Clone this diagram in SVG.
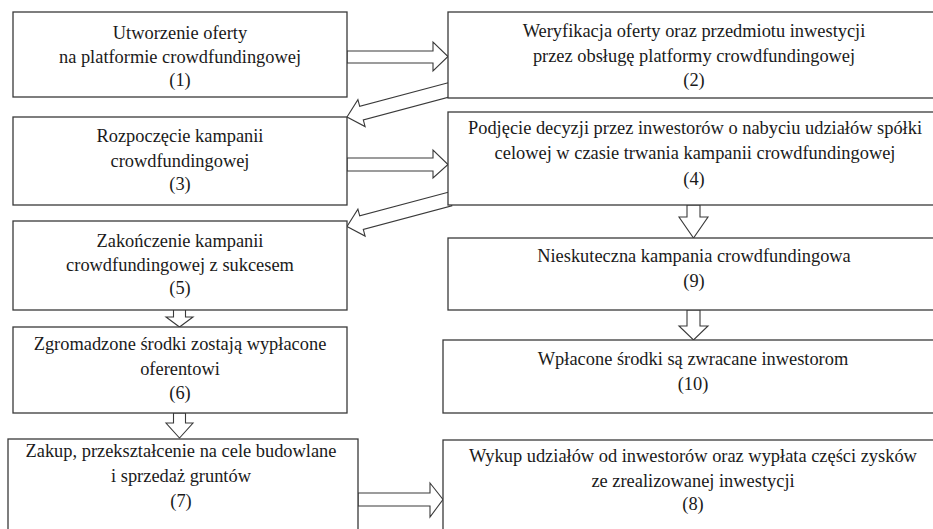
<svg xmlns="http://www.w3.org/2000/svg" width="933" height="529" viewBox="0 0 933 529">
<style>
.box{fill:#fff;stroke:#3a3a3a;stroke-width:1.3}
.arr{fill:#fff;stroke:#3a3a3a;stroke-width:1.1;stroke-linejoin:miter}
text{font-family:"Liberation Serif","Times New Roman",serif;font-size:18.4px;fill:#1a1a1a;text-anchor:middle}
</style>
<rect width="933" height="529" fill="#fff"/>
<g id="connectors">
<polygon class="arr" points="347,51 433,51 433,42 448,56.5 433,71 433,63 347,63"/>
<polygon class="arr" points="347,158 433,158 433,150 448,164.5 433,178 433,171 347,171"/>
<polygon class="arr" points="358,493 430,493 430,483 443,499.5 430,517 430,506 358,506"/>
<polygon class="arr" points="448.2,82.7 359.7,106.3 357.9,99.6 347,117 365.1,126.6 363.3,119.9 451.8,96.3"/>
<polygon class="arr" points="448.2,192.2 359.7,215.8 357.9,209.1 347,226.5 365.1,236.1 363.3,229.4 451.8,205.8"/>
<polygon class="arr" points="173.5,309 185.5,309 185.5,317 193,317 179.5,327 166,317 173.5,317"/>
<polygon class="arr" points="173.5,413 185.5,413 185.5,423 193,423 179.5,438 166,423 173.5,423"/>
<polygon class="arr" points="687,205 700,205 700,217 708,217 693.5,238 679,217 687,217"/>
<polygon class="arr" points="687,310 700,310 700,326 708,326 693.5,340 679,326 687,326"/>
</g>
<g id="n1"><rect class="box" x="13" y="12" width="334" height="85"/>
<text x="180" y="39">Utworzenie oferty</text><text x="180" y="63">na platformie crowdfundingowej</text><text x="180" y="86">(1)</text></g>
<g id="n2"><rect class="box" x="448" y="12" width="500" height="86"/>
<text x="694" y="37">Weryfikacja oferty oraz przedmiotu inwestycji</text><text x="694" y="62">przez obsługę platformy crowdfundingowej</text><text x="694" y="86">(2)</text></g>
<g id="n3"><rect class="box" x="13" y="117" width="334" height="88"/>
<text x="180" y="142">Rozpoczęcie kampanii</text><text x="180" y="166.5">crowdfundingowej</text><text x="180" y="190">(3)</text></g>
<g id="n4"><rect class="box" x="448" y="112" width="500" height="93"/>
<text x="695" y="133.5">Podjęcie decyzji przez inwestorów o nabyciu udziałów spółki</text><text x="695" y="158.5">celowej w czasie trwania kampanii crowdfundingowej</text><text x="694" y="185">(4)</text></g>
<g id="n5"><rect class="box" x="13" y="221" width="334" height="89"/>
<text x="180" y="246.5">Zakończenie kampanii</text><text x="180" y="270.5">crowdfundingowej z sukcesem</text><text x="180" y="294">(5)</text></g>
<g id="n9"><rect class="box" x="448" y="238" width="500" height="72"/>
<text x="694" y="261.5">Nieskuteczna kampania crowdfundingowa</text><text x="694" y="286.5">(9)</text></g>
<g id="n6"><rect class="box" x="13" y="327" width="334" height="86"/>
<text x="180" y="350">Zgromadzone środki zostają wypłacone</text><text x="180" y="375">oferentowi</text><text x="180" y="398.5">(6)</text></g>
<g id="n10"><rect class="box" x="443" y="340" width="505" height="73"/>
<text x="693" y="365">Wpłacone środki są zwracane inwestorom</text><text x="693" y="390">(10)</text></g>
<g id="n7"><rect class="box" x="8" y="439" width="350" height="100"/>
<text x="181" y="457">Zakup, przekształcenie na cele budowlane</text><text x="181" y="482">i sprzedaż gruntów</text><text x="181" y="507">(7)</text></g>
<g id="n8"><rect class="box" x="443" y="440" width="505" height="99"/>
<text x="693" y="462">Wykup udziałów od inwestorów oraz wypłata części zysków</text><text x="693" y="487">ze zrealizowanej inwestycji</text><text x="693" y="510">(8)</text></g>
</svg>
